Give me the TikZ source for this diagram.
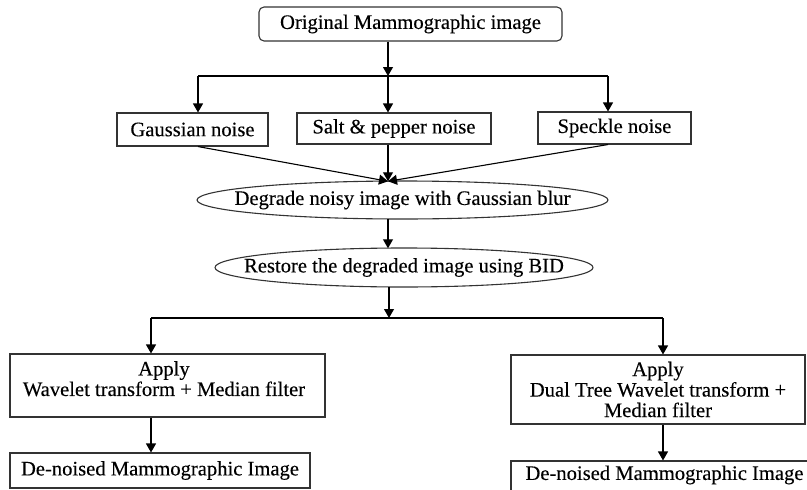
\documentclass[tikz,border=0pt]{standalone}
\usepackage{fontspec}
\setmainfont{Liberation Serif}
\newfontfamily\chartfont[FakeBold=0.25]{Liberation Serif}
\usetikzlibrary{arrows.meta,calc}
\begin{document}
\begin{tikzpicture}[x=1pt,y=-1pt,
  every node/.style={font=\chartfont\fontsize{20.6}{20.5}\selectfont, text=black, inner sep=0pt},
  box/.style={draw=black!80, line width=1.1pt, rectangle, align=center},
  outline/.style={draw=black!80, line width=1.1pt},
  link/.style={draw=black, line width=1.1pt},
  arr/.style={link, -{Triangle[length=9pt,width=10pt]}}]
\useasboundingbox (0,0) rectangle (807,490);
\clip (0,0) rectangle (807,490);

% process boxes
\node[box, rounded corners=5pt, minimum width=303pt, minimum height=34pt] (orig) at (410.5,24) {Original Mammographic image};
\node[box, minimum width=151pt, minimum height=33pt] (gauss) at (192.5,129.5) {Gaussian noise};
\node[box, minimum width=194pt, minimum height=31pt] (salt) at (394,128.5) {Salt \& pepper noise};
\node[box, minimum width=153pt, minimum height=32pt] (speck) at (614.5,128) {Speckle noise};

% oval steps
\node (degrade) at (402.5,200) {Degrade noisy image with Gaussian blur};
\draw[outline] (degrade.center) ellipse [x radius=205.5pt, y radius=19pt];
\node (restore) at (404,267.5) {Restore the degraded image using BID};
\draw[outline] (restore.center) ellipse [x radius=189pt, y radius=19.5pt];

% filtering methods
\node[box, minimum width=315pt, minimum height=63pt] (applyL) at (167.5,385.5) {};
\node[align=center, anchor=north] (applyLtext) at (164,361) {Apply\\ Wavelet transform + Median filter};
\node[box, minimum width=300pt, minimum height=35pt] (outL) at (160,470.5) {De-noised Mammographic Image};
\node[box, minimum width=294pt, minimum height=69pt] (applyR) at (658,389.5) {Apply\\ Dual Tree Wavelet transform +\\ Median filter};
\node[box, minimum width=307pt, minimum height=36pt] (outR) at (664.5,479) {};
\node (outRtext) at (664.5,475) {De-noised Mammographic Image};

% branching after the original image
\coordinate (split1) at (388,76);
\coordinate (hl) at (198,76);
\coordinate (hr) at (608,76);
\draw[arr] (split1 |- orig.south) -- (split1);
\draw[link] (hl) -- (hr);
\draw[arr] (split1) -- (split1 |- salt.north);
\draw[arr] (hl) -- (hl |- gauss.north);
\draw[arr] (hr) -- (hr |- speck.north);

% noise models merge into the blur step
\coordinate (merge) at (388,181.3);
\draw[arr] (hl |- gauss.south) -- (merge);
\draw[arr] (split1 |- salt.south) -- (merge);
\draw[arr] (hr |- speck.south) -- (merge);

% blur -> restoration
\coordinate (blurout) at (388,219);
\coordinate (restin) at (388,248.3);
\draw[arr] (blurout) -- (restin);

% restoration splits into the two filtering methods
\coordinate (split2) at (389,318);
\coordinate (restout) at (389,287);
\coordinate (bl) at (151,318);
\coordinate (br) at (663,318);
\draw[arr] (restout) -- (split2);
\draw[link] (bl) -- (br);
\draw[arr] (bl) -- (bl |- applyL.north);
\draw[arr] (br) -- (br |- applyR.north);

% outputs
\draw[arr] (bl |- applyL.south) -- (bl |- outL.north);
\draw[arr] (br |- applyR.south) -- (br |- outR.north);
\end{tikzpicture}
\end{document}
